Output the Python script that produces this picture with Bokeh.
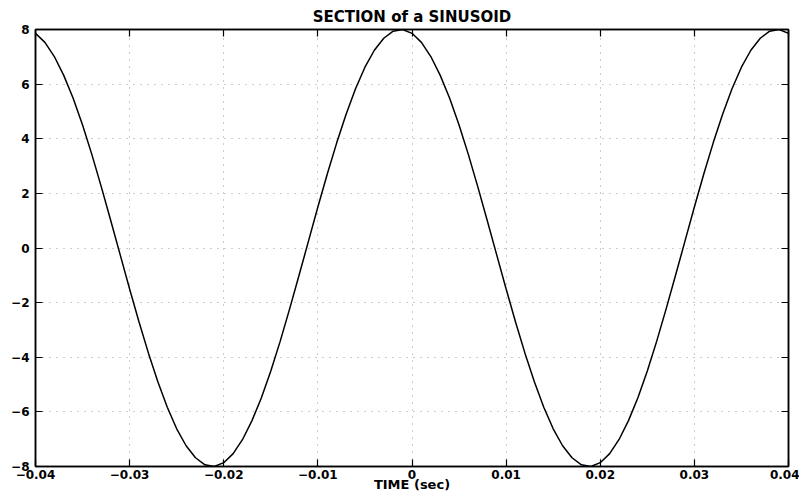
from bokeh.plotting import figure
from bokeh.models import (Range1d, FixedTicker, LinearAxis, CustomJSTickFormatter,
                          CustomLabelingPolicy)
from bokeh.embed import file_html
from bokeh.resources import INLINE

# Samples (time in seconds, amplitude)
time_s = [
    -0.040, -0.039, -0.038, -0.037, -0.036, -0.035, -0.034, -0.033, -0.032, -0.031,
    -0.030, -0.029, -0.028, -0.027, -0.026, -0.025, -0.024, -0.023, -0.022, -0.021,
    -0.020, -0.019, -0.018, -0.017, -0.016, -0.015, -0.014, -0.013, -0.012, -0.011,
    -0.010, -0.009, -0.008, -0.007, -0.006, -0.005, -0.004, -0.003, -0.002, -0.001,
    0.000, 0.001, 0.002, 0.003, 0.004, 0.005, 0.006, 0.007, 0.008, 0.009,
    0.010, 0.011, 0.012, 0.013, 0.014, 0.015, 0.016, 0.017, 0.018, 0.019,
    0.020, 0.021, 0.022, 0.023, 0.024, 0.025, 0.026, 0.027, 0.028, 0.029,
    0.030, 0.031, 0.032, 0.033, 0.034, 0.035, 0.036, 0.037, 0.038, 0.039,
    0.040,
]
amplitude = [
    7.86, 7.53, 7.01, 6.32, 5.48, 4.50, 3.41, 2.23, 1.00, -0.25,
    -1.50, -2.71, -3.85, -4.90, -5.83, -6.62, -7.24, -7.68, -7.94, -8.00,
    -7.86, -7.53, -7.01, -6.32, -5.48, -4.50, -3.41, -2.23, -1.00, 0.25,
    1.50, 2.71, 3.85, 4.90, 5.83, 6.62, 7.24, 7.68, 7.94, 8.00,
    7.86, 7.53, 7.01, 6.32, 5.48, 4.50, 3.41, 2.23, 1.00, -0.25,
    -1.50, -2.71, -3.85, -4.90, -5.83, -6.62, -7.24, -7.68, -7.94, -8.00,
    -7.86, -7.53, -7.01, -6.32, -5.48, -4.50, -3.41, -2.23, -1.00, 0.25,
    1.50, 2.71, 3.85, 4.90, 5.83, 6.62, 7.24, 7.68, 7.94, 8.00,
    7.86,
]
x_ticks = [-0.04, -0.03, -0.02, -0.01, 0.0, 0.01, 0.02, 0.03, 0.04]
y_ticks = [-8, -6, -4, -2, 0, 2, 4, 6, 8]

title_text = "SECTION of a SINUSOID"
x_label = "TIME (sec)"

FONT = "DejaVu Sans"

p = figure(width=799, height=494, output_backend="svg", toolbar_location=None,
           x_range=Range1d(-0.04, 0.04), y_range=Range1d(-8, 8),
           title=title_text, x_axis_label=x_label)
p.min_border_left = 35
p.min_border_right = 11
p.min_border_top = 29
p.min_border_bottom = 0
p.background_fill_color = "white"
p.border_fill_color = "white"
p.outline_line_color = "black"
p.outline_line_width = 1.5

p.title.align = "center"
p.title.text_font = FONT
p.title.text_font_size = "15px"
p.title.text_font_style = "bold"
p.title.text_color = "black"
p.title.standoff = 7

xfmt = CustomJSTickFormatter(code="""
    const s = Math.abs(tick) < 1e-9 ? '0' : tick.toFixed(2);
    return s.replace('-', '\\u2212');
""")
yfmt = CustomJSTickFormatter(code="""
    return tick.toFixed(0).replace('-', '\\u2212');
""")

for ax in p.xaxis:
    ax.ticker = FixedTicker(ticks=x_ticks)
    ax.formatter = xfmt
for ax in p.yaxis:
    ax.ticker = FixedTicker(ticks=y_ticks)
    ax.formatter = yfmt

for ax in list(p.xaxis) + list(p.yaxis):
    ax.major_tick_in = 7
    ax.major_tick_out = 0
    ax.minor_tick_line_color = None
    ax.axis_line_color = "black"
    ax.axis_line_width = 1.5
    ax.major_tick_line_color = "black"
    ax.major_tick_line_width = 1.2
    ax.major_label_text_font = FONT
    ax.major_label_text_font_size = "12px"
    ax.major_label_text_font_style = "bold"
    ax.major_label_text_color = "black"

p.xaxis.major_label_standoff = 3
p.xaxis.axis_label_standoff = -5
p.xaxis.axis_label_text_font = FONT
p.xaxis.axis_label_text_font_size = "13px"
p.xaxis.axis_label_text_font_style = "bold"
p.xaxis.axis_label_text_color = "black"
p.yaxis.major_label_standoff = 6

no_labels = CustomLabelingPolicy(code="""
    const all = [...indices];
    for (const i of all) indices.unset(i);
    return indices;
""")

# Mirror axes on top and right (tick marks only)
mirror = dict(major_label_policy=no_labels, major_label_text_font_size="0px",
              major_label_standoff=0, major_tick_in=7, major_tick_out=0,
              minor_tick_line_color=None, axis_line_color="black", axis_line_width=1.5,
              major_tick_line_width=1.2)
top = LinearAxis(ticker=FixedTicker(ticks=x_ticks), **mirror)
right = LinearAxis(ticker=FixedTicker(ticks=y_ticks), **mirror)
p.add_layout(top, "above")
p.add_layout(right, "right")

p.xgrid.ticker = FixedTicker(ticks=x_ticks)
p.ygrid.ticker = FixedTicker(ticks=y_ticks)
p.grid.grid_line_color = "#999999"
p.grid.grid_line_dash = "1 6"
p.grid.grid_line_width = 1

p.line(time_s, amplitude, line_color="black", line_width=1.5)

open("out.html", "w").write(file_html(p, INLINE))
